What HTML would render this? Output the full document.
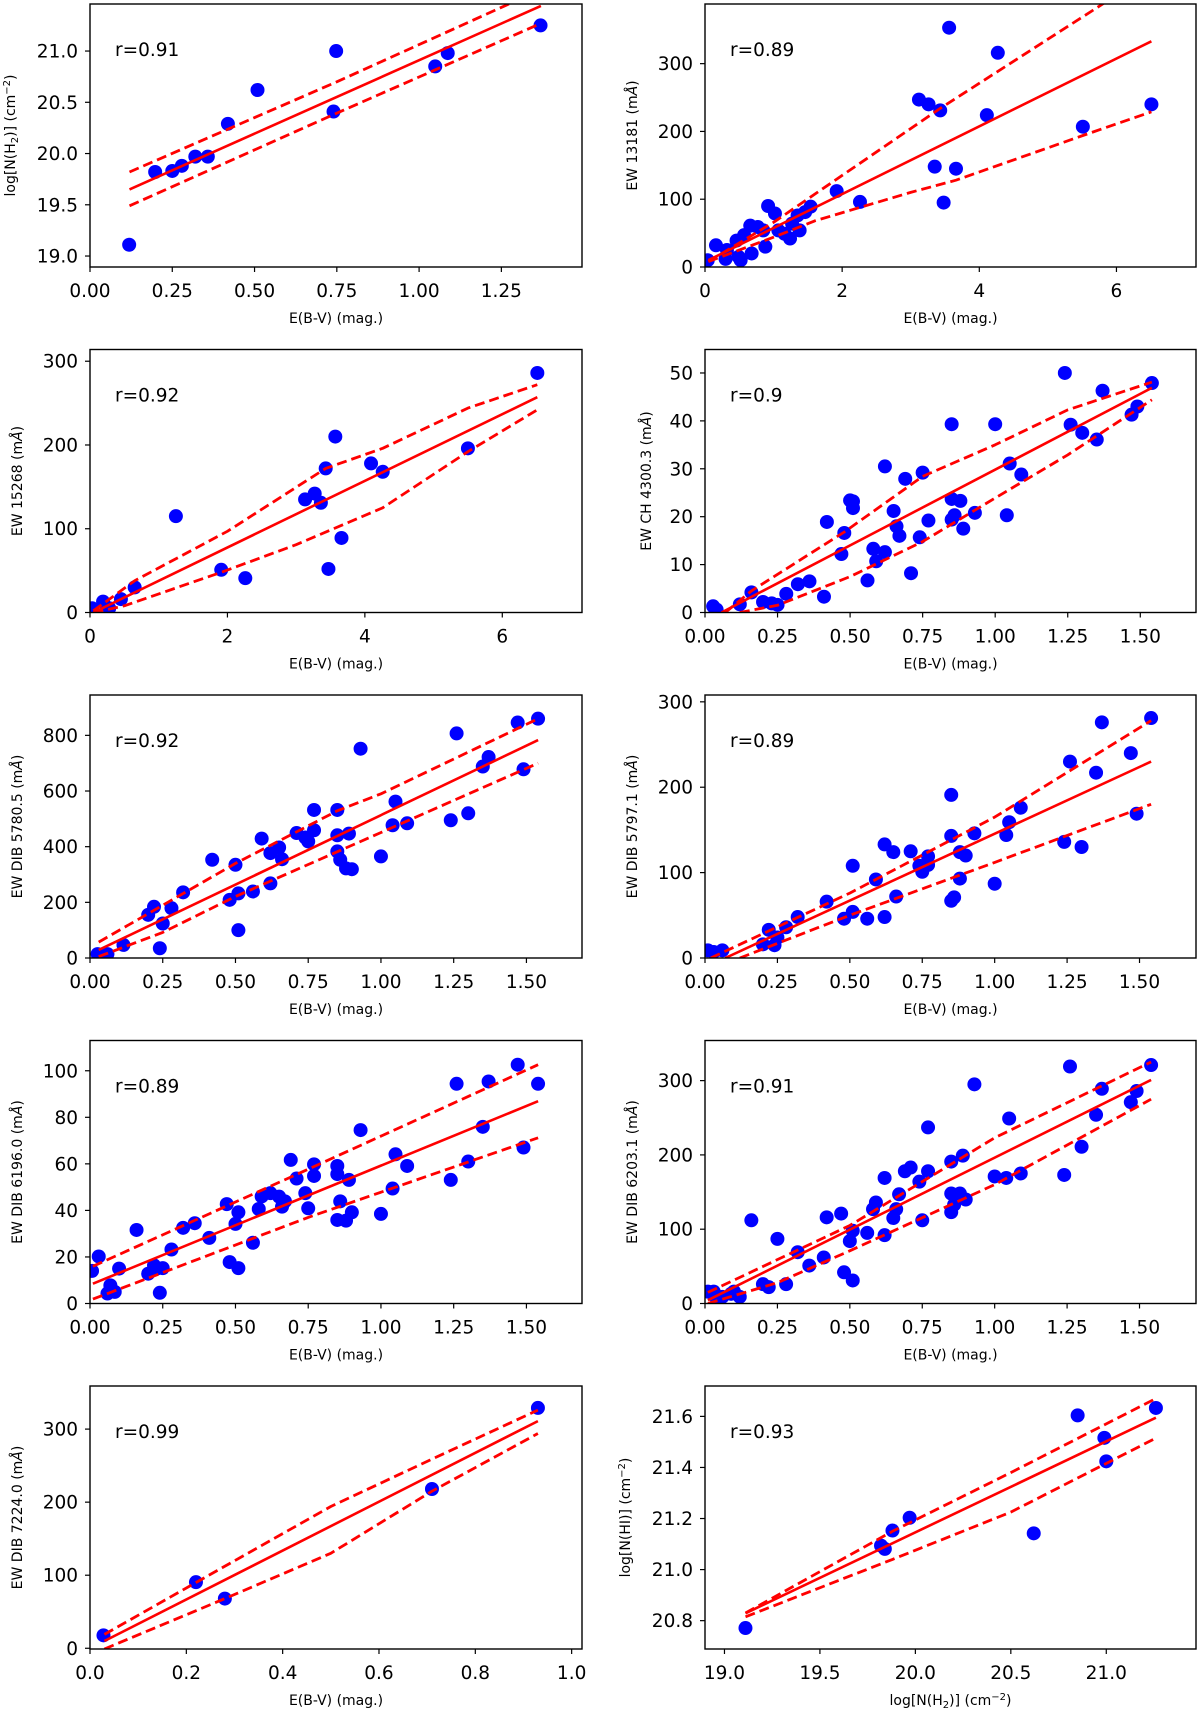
<!DOCTYPE html>
<html><head><meta charset="utf-8"><title>Correlation plots</title>
<style>
html,body{margin:0;padding:0;background:#fff;}
svg{display:block;font-family:"DejaVu Sans","Liberation Sans",sans-serif;}
</style></head>
<body>
<svg id="fig" width="1200" height="1714" viewBox="0 0 1200 1714" xmlns="http://www.w3.org/2000/svg">
<rect x="0" y="0" width="1200" height="1714" fill="#fff"/>
</svg>
<script>
// ---- data ----
const p1X=[0.119,0.198,0.25,0.279,0.32,0.358,0.419,0.509,0.740,0.748,1.049,1.087,1.369];
const p1Y=[19.11,19.82,19.83,19.88,19.97,19.97,20.29,20.62,20.41,21.0,20.85,20.98,21.25];
const p1FitX=[0.12,1.37], p1FitY=[19.65,21.44];
const p1UpX=[0.12,0.75,1.37], p1UpY=[19.82,20.70,21.6];
const p1LoX=[0.12,0.74,1.37], p1LoY=[19.49,20.38,21.27];

const p2X=[0.16,0.04,0.32,0.3,0.49,0.52,0.46,0.57,0.66,0.68,0.77,0.88,0.92,0.85,1.02,1.07,1.16,1.24,1.27,1.38,1.35,1.46,1.54,1.92,2.26,3.12,3.26,3.43,3.35,3.48,3.56,3.66,4.11,4.27,5.51,6.51];
const p2Y=[32,10,25,12,15,10,39,47,61,20,59,30,90,54,79,54,49,42,64,54,76,81,89,112,96,247,240,231,148,95,353,145,224,316,207,240];
const p2FitX=[0.05,6.51], p2FitY=[10,333];
const p2UpX=[0.05,1,3.43,5.8,6.5], p2UpY=[8,66,234,388,435];
const p2LoX=[0.05,1,1.6,2.26,3.0,3.66,5.51,6.51], p2LoY=[8,44,68,88,110,128,194,229];

const p3X=[0.03,0.19,0.28,0.45,0.65,1.25,1.91,2.26,3.13,3.27,3.36,3.43,3.47,3.57,3.66,4.09,4.26,5.5,6.51];
const p3Y=[5,13,5,16,30,115,51,41,135,142,131,172,52,210,89,178,168,196,286];
const p3FitX=[0.05,6.51], p3FitY=[0,257];
const p3UpX=[0.05,0.65,2,3.43,4.26,5.5,6.51], p3UpY=[2,38,97,172,196,244,272];
const p3LoX=[0.05,0.5,1.91,3.0,4.26,5.5,6.51], p3LoY=[0,8,48,81,125,192,242];

const p4X=[0.028,0.04,0.12,0.16,0.2,0.23,0.25,0.28,0.32,0.36,0.41,0.42,0.47,0.48,0.5,0.51,0.51,0.56,0.58,0.59,0.62,0.62,0.65,0.66,0.67,0.69,0.71,0.74,0.75,0.77,0.85,0.85,0.85,0.86,0.88,0.89,0.93,1.0,1.04,1.05,1.09,1.24,1.26,1.30,1.35,1.37,1.47,1.49,1.54];
const p4Y=[1.3,0.6,1.7,4.2,2.2,1.9,1.6,3.9,5.9,6.5,3.3,18.9,12.2,16.6,23.4,23.2,21.8,6.7,13.3,10.7,12.6,30.5,21.2,18,16,27.9,8.2,15.7,29.2,19.2,39.3,23.7,19.4,20.3,23.3,17.5,20.8,39.3,20.3,31.1,28.8,50,39.2,37.5,36.1,46.3,41.3,43,47.9];
const p4FitX=[0.057,1.54], p4FitY=[0,46.9];
const p4UpX=[0.07,0.16,0.48,0.75,1.0,1.25,1.54], p4UpY=[0,4.5,16.8,28.4,35,42.3,48.1];
const p4LoX=[0.12,0.25,0.5,0.75,1.0,1.25,1.54], p4LoY=[0,1.5,7.5,14.8,23.9,32.9,44.4];

const p5X=[0.026,0.06,0.115,0.2,0.22,0.24,0.25,0.28,0.32,0.42,0.48,0.5,0.51,0.51,0.56,0.59,0.62,0.62,0.65,0.66,0.71,0.74,0.75,0.77,0.77,0.85,0.85,0.85,0.86,0.88,0.9,0.89,0.93,1.0,1.04,1.05,1.09,1.24,1.26,1.3,1.35,1.37,1.47,1.49,1.54];
const p5Y=[14,14,47,155,184,35,124,179,236,353,209,335,232,100,239,429,377,268,397,355,449,433,419,459,532,532,441,383,353,322,319,447,752,365,477,562,484,495,807,520,688,722,846,678,860];
const p5FitX=[0.03,1.54], p5FitY=[29,783];
const p5UpX=[0.03,0.5,0.85,1.0,1.54], p5UpY=[57,340,529,590,860];
const p5LoX=[0.03,0.25,0.5,1.0,1.54], p5LoY=[5,92,221,451,700];

const p6X=[0.01,0.03,0.06,0.2,0.22,0.24,0.25,0.28,0.32,0.42,0.48,0.51,0.51,0.56,0.59,0.62,0.62,0.65,0.66,0.71,0.74,0.75,0.77,0.77,0.85,0.85,0.85,0.86,0.88,0.88,0.9,0.93,1.0,1.04,1.05,1.09,1.24,1.26,1.3,1.35,1.37,1.47,1.49,1.54];
const p6Y=[9,7,9,16,33,15,24,36,48,66,46,54,108,46,92,48,133,124,72,125,108,101,119,109,191,143,67,71,93,124,120,146,87,144,159,176,136,230,130,217,276,240,169,281];
const p6FitX=[0.07,1.54], p6FitY=[0,230];
const p6UpX=[0.02,0.5,1.0,1.54], p6UpY=[0,76,165,278];
const p6LoX=[0.12,0.5,1.0,1.54], p6LoY=[0,50,112,180];

const p7X=[0.007,0.03,0.06,0.07,0.085,0.1,0.16,0.2,0.22,0.23,0.25,0.24,0.28,0.32,0.36,0.41,0.47,0.48,0.5,0.51,0.51,0.56,0.58,0.59,0.62,0.65,0.66,0.67,0.69,0.71,0.74,0.75,0.77,0.77,0.85,0.85,0.86,0.85,0.88,0.89,0.9,0.93,1.0,1.04,1.05,1.09,1.24,1.26,1.3,1.35,1.37,1.47,1.49,1.54];
const p7Y=[14,20.2,4.3,7.8,5,15,31.6,12.8,16.4,15,15.2,4.6,23.2,32.5,34.5,28.2,42.7,17.8,34.2,39.2,15.2,26.1,40.6,46,47.4,45.9,41.6,43.9,61.7,53.7,47.4,40.9,59.8,54.8,59.1,55.6,43.9,35.9,35.6,53.1,39.2,74.5,38.5,49.4,64.1,59.1,53.1,94.4,61,75.9,95.4,102.6,67,94.4];
const p7FitX=[0.01,1.54], p7FitY=[8.5,86.9];
const p7UpX=[0.01,0.75,1.54], p7UpY=[16,57.7,102.6];
const p7LoX=[0.01,0.75,1.54], p7LoY=[1.9,37,71.2];

const p8X=[0.01,0.03,0.04,0.06,0.09,0.1,0.12,0.16,0.2,0.22,0.25,0.28,0.32,0.36,0.41,0.42,0.47,0.48,0.51,0.5,0.51,0.56,0.58,0.59,0.62,0.62,0.65,0.66,0.67,0.69,0.71,0.74,0.75,0.77,0.77,0.85,0.85,0.85,0.86,0.88,0.89,0.9,0.93,1.0,1.04,1.05,1.09,1.24,1.26,1.3,1.35,1.37,1.47,1.49,1.54];
const p8Y=[16,16,7,9,13,16,9,112,26,22,87,26,69,51,62,116,121,42,31,84,98,95,127,136,92,169,115,127,147,178,183,164,112,178,237,191,148,123,133,148,199,140,295,171,169,249,175,173,319,211,254,289,271,286,321];
const p8FitX=[0.01,1.54], p8FitY=[4.5,301];
const p8UpX=[0.01,0.5,1.0,1.54], p8UpY=[15,105,223,325];
const p8LoX=[0.01,0.25,0.5,1.0,1.54], p8LoY=[0,28,71,160,275];

const p9X=[0.028,0.22,0.28,0.71,0.93];
const p9Y=[17.7,90.5,68,218,329];
const p9FitX=[0.03,0.93], p9FitY=[10,311];
const p9UpX=[0.03,0.22,0.5,0.71,0.93], p9UpY=[19,90,194,259,326];
const p9LoX=[0.03,0.28,0.5,0.71,0.93], p9LoY=[-1,68,130,215,294];

const p10X=[19.11,19.82,19.84,19.88,19.97,20.62,20.85,20.99,21.0,21.26];
const p10Y=[20.771,21.094,21.081,21.153,21.203,21.142,21.604,21.516,21.424,21.633];
const p10FitX=[19.11,21.26], p10FitY=[20.829,21.595];
const p10UpX=[19.11,19.88,20.5,21.26], p10UpY=[20.83,21.15,21.38,21.67];
const p10LoX=[19.11,19.88,20.5,21.26], p10LoY=[20.815,21.04,21.225,21.515];

const rValues=["r=0.91","r=0.89","r=0.92","r=0.9","r=0.92","r=0.89","r=0.89","r=0.91","r=0.99","r=0.93"];
const xTicks1=[0,0.25,0.5,0.75,1.0,1.25], xTickLabels1=["0.00","0.25","0.50","0.75","1.00","1.25"];
const xTicksBig=[0,2,4,6], xTickLabelsBig=["0","2","4","6"];
const xTicksE=[0,0.25,0.5,0.75,1.0,1.25,1.5], xTickLabelsE=["0.00","0.25","0.50","0.75","1.00","1.25","1.50"];
const xTicks9=[0,0.2,0.4,0.6,0.8,1.0], xTickLabels9=["0.0","0.2","0.4","0.6","0.8","1.0"];
const xTicks10=[19.0,19.5,20.0,20.5,21.0], xTickLabels10=["19.0","19.5","20.0","20.5","21.0"];
const yTicks1=[19.0,19.5,20.0,20.5,21.0], yTickLabels1=["19.0","19.5","20.0","20.5","21.0"];
const yTicks300=[0,100,200,300], yTickLabels300=["0","100","200","300"];
const yTicks4=[0,10,20,30,40,50], yTickLabels4=["0","10","20","30","40","50"];
const yTicks5=[0,200,400,600,800], yTickLabels5=["0","200","400","600","800"];
const yTicks7=[0,20,40,60,80,100], yTickLabels7=["0","20","40","60","80","100"];
const yTicks10=[20.8,21.0,21.2,21.4,21.6], yTickLabels10=["20.8","21.0","21.2","21.4","21.6"];

// ---- layout ----
const NS="http://www.w3.org/2000/svg";
const svg=document.getElementById('fig');
const COLS=[[90,582],[705,1196]];
function rowTop(i){return 4+345.5*i;}
const PH=263;
const XL='E(B-V) (mag.)';
const panels=[
 {id:1,c:0,r:0,xd:[0,1.495],yd:[18.893,21.459],X:p1X,Y:p1Y,fx:p1FitX,fy:p1FitY,ux:p1UpX,uy:p1UpY,lx:p1LoX,ly:p1LoY,xt:xTicks1,xtl:xTickLabels1,yt:yTicks1,ytl:yTickLabels1,yl:'log[N(H<tspan font-size="10" dy="3">2</tspan><tspan dy="-3">)] (cm</tspan><tspan font-size="10" dy="-5">−2</tspan><tspan dy="5">)</tspan>',yo:-80,xl:XL},
 {id:2,c:1,r:0,xd:[0,7.16],yd:[0,388],X:p2X,Y:p2Y,fx:p2FitX,fy:p2FitY,ux:p2UpX,uy:p2UpY,lx:p2LoX,ly:p2LoY,xt:xTicksBig,xtl:xTickLabelsBig,yt:yTicks300,ytl:yTickLabels300,yl:'EW 13181 (m<tspan font-style="italic">Å</tspan>)',yo:-73,xl:XL},
 {id:3,c:0,r:1,xd:[0,7.16],yd:[0,314],X:p3X,Y:p3Y,fx:p3FitX,fy:p3FitY,ux:p3UpX,uy:p3UpY,lx:p3LoX,ly:p3LoY,xt:xTicksBig,xtl:xTickLabelsBig,yt:yTicks300,ytl:yTickLabels300,yl:'EW 15268 (m<tspan font-style="italic">Å</tspan>)',yo:-73,xl:XL},
 {id:4,c:1,r:1,xd:[0,1.692],yd:[0,54.9],X:p4X,Y:p4Y,fx:p4FitX,fy:p4FitY,ux:p4UpX,uy:p4UpY,lx:p4LoX,ly:p4LoY,xt:xTicksE,xtl:xTickLabelsE,yt:yTicks4,ytl:yTickLabels4,yl:'EW CH 4300.3 (m<tspan font-style="italic">Å</tspan>)',yo:-59,xl:XL},
 {id:5,c:0,r:2,xd:[0,1.691],yd:[0,945],X:p5X,Y:p5Y,fx:p5FitX,fy:p5FitY,ux:p5UpX,uy:p5UpY,lx:p5LoX,ly:p5LoY,xt:xTicksE,xtl:xTickLabelsE,yt:yTicks5,ytl:yTickLabels5,yl:'EW DIB 5780.5 (m<tspan font-style="italic">Å</tspan>)',yo:-73,xl:XL},
 {id:6,c:1,r:2,xd:[0,1.695],yd:[0,308],X:p6X,Y:p6Y,fx:p6FitX,fy:p6FitY,ux:p6UpX,uy:p6UpY,lx:p6LoX,ly:p6LoY,xt:xTicksE,xtl:xTickLabelsE,yt:yTicks300,ytl:yTickLabels300,yl:'EW DIB 5797.1 (m<tspan font-style="italic">Å</tspan>)',yo:-73,xl:XL},
 {id:7,c:0,r:3,xd:[0,1.691],yd:[0,113],X:p7X,Y:p7Y,fx:p7FitX,fy:p7FitY,ux:p7UpX,uy:p7UpY,lx:p7LoX,ly:p7LoY,xt:xTicksE,xtl:xTickLabelsE,yt:yTicks7,ytl:yTickLabels7,yl:'EW DIB 6196.0 (m<tspan font-style="italic">Å</tspan>)',yo:-73,xl:XL},
 {id:8,c:1,r:3,xd:[0,1.695],yd:[0,354],X:p8X,Y:p8Y,fx:p8FitX,fy:p8FitY,ux:p8UpX,uy:p8UpY,lx:p8LoX,ly:p8LoY,xt:xTicksE,xtl:xTickLabelsE,yt:yTicks300,ytl:yTickLabels300,yl:'EW DIB 6203.1 (m<tspan font-style="italic">Å</tspan>)',yo:-73,xl:XL},
 {id:9,c:0,r:4,xd:[0,1.0215],yd:[-1,359],X:p9X,Y:p9Y,fx:p9FitX,fy:p9FitY,ux:p9UpX,uy:p9UpY,lx:p9LoX,ly:p9LoY,xt:xTicks9,xtl:xTickLabels9,yt:yTicks300,ytl:yTickLabels300,yl:'EW DIB 7224.0 (m<tspan font-style="italic">Å</tspan>)',yo:-73,xl:XL},
 {id:10,c:1,r:4,xd:[18.898,21.47],yd:[20.689,21.719],X:p10X,Y:p10Y,fx:p10FitX,fy:p10FitY,ux:p10UpX,uy:p10UpY,lx:p10LoX,ly:p10LoY,xt:xTicks10,xtl:xTickLabels10,yt:yTicks10,ytl:yTickLabels10,yl:'log[N(HI)] (cm<tspan font-size="10" dy="-5">−2</tspan><tspan dy="5">)</tspan>',yo:-80,xl:'log[N(H<tspan font-size="10" dy="3">2</tspan><tspan dy="-3">)] (cm</tspan><tspan font-size="10" dy="-5">−2</tspan><tspan dy="5">)</tspan>'}
];

function mk(tag,attrs,parent){
  const e=document.createElementNS(NS,tag);
  for(const k in attrs) e.setAttribute(k,attrs[k]);
  (parent||svg).appendChild(e);
  return e;
}
const defs=mk('defs',{});

panels.forEach(p=>{
  const L=COLS[p.c][0], R=COLS[p.c][1], T=rowTop(p.r), B=T+PH;
  const sx=v=>L+(v-p.xd[0])/(p.xd[1]-p.xd[0])*(R-L);
  const sy=v=>B-(v-p.yd[0])/(p.yd[1]-p.yd[0])*(B-T);
  const g=mk('g',{});
  
  
  const cp=mk('clipPath',{id:'clip'+p.id},defs);
  mk('rect',{x:L,y:T,width:R-L,height:B-T},cp);

  p.xt.forEach((v,i)=>{
    const x=sx(v);
    const t=mk('line',{x1:x,x2:x,y1:B,y2:B+5,stroke:'#000','stroke-width':1.2},g);
    
    
    const tl=mk('text',{x:x,y:B+30,'text-anchor':'middle','font-size':18.5,fill:'#000'},g);
    
    
    tl.textContent=p.xtl[i];
  });
  p.yt.forEach((v,i)=>{
    const y=sy(v);
    const t=mk('line',{x1:L-5,x2:L,y1:y,y2:y,stroke:'#000','stroke-width':1.2},g);
    
    
    const tl=mk('text',{x:L-12,y:y+6.5,'text-anchor':'end','font-size':18.5,fill:'#000'},g);
    
    
    tl.textContent=p.ytl[i];
  });

  const pg=mk('g',{'clip-path':'url(#clip'+p.id+')'},g);
  
  
  p.X.forEach((v,i)=>{
    const c=mk('circle',{cx:sx(v),cy:sy(p.Y[i]),r:7,fill:'#0000ff'},pg);
    
    
  });
  const lg=mk('g',{'clip-path':'url(#clip'+p.id+')'},g);
  const pts=(xs,ys)=>xs.map((v,i)=>sx(v).toFixed(1)+','+sy(ys[i]).toFixed(1)).join(' ');
  const fit=mk('polyline',{points:pts(p.fx,p.fy),fill:'none',stroke:'#ff0000','stroke-width':2.6},lg);
  
  
  const up=mk('polyline',{points:pts(p.ux,p.uy),fill:'none',stroke:'#ff0000','stroke-width':2.8,'stroke-dasharray':'10,5','stroke-linejoin':'round'},lg);
  
  
  const lo=mk('polyline',{points:pts(p.lx,p.ly),fill:'none',stroke:'#ff0000','stroke-width':2.8,'stroke-dasharray':'10,5','stroke-linejoin':'round'},lg);
  
  

  const fr=mk('rect',{x:L,y:T,width:R-L,height:B-T,fill:'none',stroke:'#000','stroke-width':1.4},g);
  
  

  const rt=mk('text',{x:L+25,y:T+52,'font-size':18.5,fill:'#000'},g);
  
  
  rt.textContent=rValues[p.id-1];

  const xl=mk('text',{x:(L+R)/2,y:B+56,'text-anchor':'middle','font-size':14,fill:'#000'},g);
  
  
  xl.innerHTML=p.xl;
  const cy=(T+B)/2, cx=L+p.yo;
  const yl=mk('text',{x:cx,y:cy,'text-anchor':'middle','font-size':14,fill:'#000',transform:'rotate(-90 '+cx+' '+cy+')',dy:5},g);
  
  
  yl.innerHTML=p.yl;
});
</script>
</body></html>
